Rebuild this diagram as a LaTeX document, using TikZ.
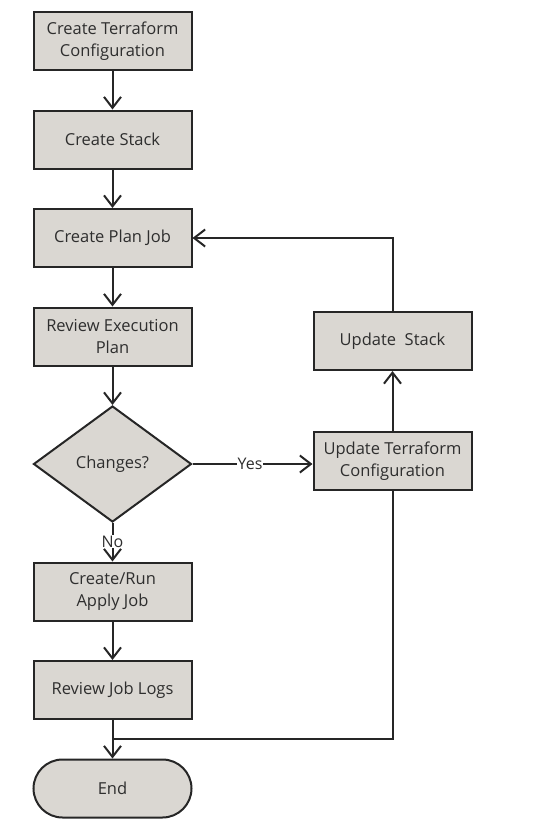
\documentclass[tikz,border=0pt]{standalone}
\usepackage{fontspec}
\setmainfont{Open Sans}
\usepackage{tikz}
\usetikzlibrary{arrows.meta, positioning, shapes.geometric}

\definecolor{boxgray}{HTML}{DAD7D2}
\definecolor{linegray}{HTML}{262626}
\definecolor{textgray}{HTML}{2E2E2E}

\begin{document}
\begin{tikzpicture}[
  x=1pt, y=1pt,
  node distance=38.5pt,
  box/.style={rectangle, draw=linegray, fill=boxgray, line width=2pt,
    minimum width=158pt, minimum height=58pt, align=center,
    text=textgray, font=\fontsize{16.5}{21.5}\selectfont},
  decision/.style={diamond, draw=linegray, fill=boxgray, line width=2pt,
    minimum width=158pt, minimum height=116pt, aspect=1.35, inner sep=0pt,
    text=textgray, font=\fontsize{16.5}{21.5}\selectfont},
  term/.style={box, rounded corners=29pt},
  edge/.style={-{Straight Barb[length=11pt, width=17pt, line width=2pt]}, line width=2pt, draw=linegray},
  lbl/.style={fill=white, inner sep=1pt, text=textgray, font=\fontsize{16}{20}\selectfont}
]
\useasboundingbox (0,0) rectangle (543,-823);

\node[box] (tfconf) at (112.5,-41) {Create Terraform\\Configuration};
\node[box, below=of tfconf] (stack) {Create Stack};
\node[box, below=of stack] (plan) {Create Plan Job};
\node[box, below=of plan] (review) {Review Execution\\Plan};
\node[decision, below=of review] (changes) {Changes?};
\node[box, below=of changes] (apply) {Create/Run\\Apply Job};
\node[box, below=of apply] (logs) {Review Job Logs};
\node[term, below=of logs] (finish) {End};

\node[box, right=120pt of changes, yshift=3pt] (updconf) {Update Terraform\\Configuration};
\node[box, above=60pt of updconf] (updstack) {Update\ \ Stack};

\coordinate[below=19pt of logs.south] (join);

\draw[edge] (tfconf) -- (stack);
\draw[edge] (stack) -- (plan);
\draw[edge] (plan) -- (review);
\draw[edge] (review) -- (changes);
\draw[edge] (changes) -- node[lbl, pos=0.48] {No} (apply);
\draw[edge] (apply) -- (logs);
\draw[edge] (logs) -- (finish);
\draw[edge] (changes.east) -- node[lbl, pos=0.48] {Yes} (changes.east -| updconf.west);
\draw[edge] (updconf) -- (updstack);
\draw[edge] (updstack.north) |- (plan.east);
\draw[line width=2pt, draw=linegray] (updconf.south) |- (join);
\end{tikzpicture}
\end{document}
